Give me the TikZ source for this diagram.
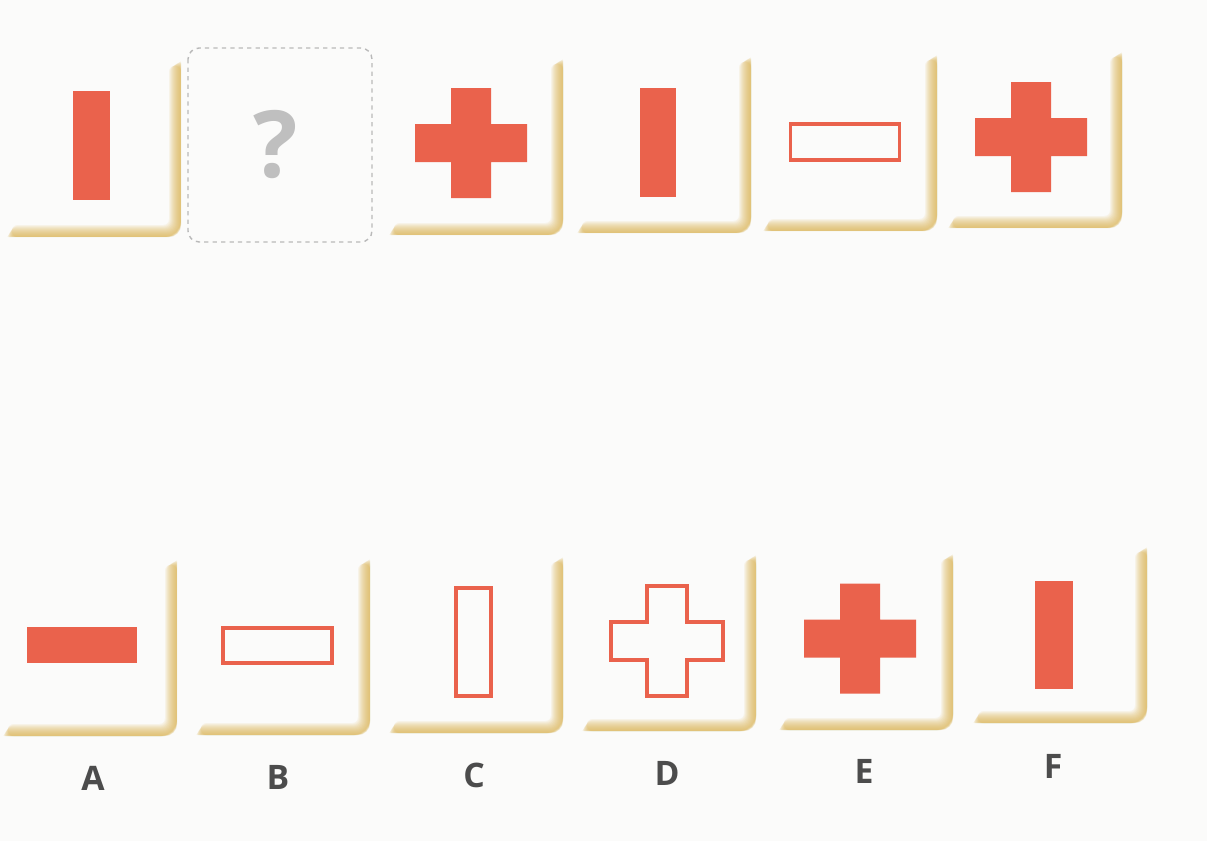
\documentclass[tikz,border=0pt]{standalone}
\usepackage{fontspec}
\setsansfont{Open Sans}
\usetikzlibrary{positioning}

\definecolor{tilered}{RGB}{234,98,76}
\definecolor{tilegold}{RGB}{220,178,78}
\definecolor{paper}{RGB}{251,251,250}

\tikzset{
  shadowline/.style={tilegold, line cap=round, rounded corners=8pt},
  solidshape/.style={fill=tilered},
  outlineshape/.style={draw=tilered, line width=2.7pt, fill=paper},
  answerlabel/.style={font=\sffamily\bfseries\fontsize{24}{24}\selectfont, text=black!70},
}

% tile edge, soft gold: right x, bottom y
\newcommand\tile[2]{%
  \foreach \w in {1,...,12}
    \draw[shadowline, line width=\w*0.71pt, opacity=0.1]
      (#1-\w/2,#2-176+\w*0.9) -- (#1-\w/2,#2-\w/2) -- (#1-174+\w*0.9,#2-\w/2);
}
% bar: centre x, centre y, width, height, style
\newcommand\barshape[5]{%
  \path[#5] (#1-#3/2,#2-#4/2) rectangle (#1+#3/2,#2+#4/2);
}
% cross: centre x, centre y, style
\newcommand\crossshape[3]{%
  \path[#3] (#1-56,#2-19) -- (#1-20,#2-19) -- (#1-20,#2-55) -- (#1+20,#2-55)
    -- (#1+20,#2-19) -- (#1+56,#2-19) -- (#1+56,#2+19) -- (#1+20,#2+19)
    -- (#1+20,#2+55) -- (#1-20,#2+55) -- (#1-20,#2+19) -- (#1-56,#2+19) -- cycle;
}

\begin{document}
\begin{tikzpicture}[x=0.025cm, y=-0.025cm]
    \fill[paper] (0,0) rectangle (1207,841);
    \useasboundingbox (0,0) rectangle (1207,841);

    % top row
    \foreach \x/\y in {181/237, 563/235, 751/233, 937/231, 1122/228}
        \tile{\x}{\y};
    \draw[gray!55, line width=1pt, dash pattern=on 3pt off 3pt, rounded corners=8pt]
        (188,48) rectangle (372,242);
    \node[text=gray!50, font=\sffamily\bfseries\fontsize{66}{66}\selectfont] (qmark) at (276,145) {?};

    \barshape{91.5}{145.5}{37}{109}{solidshape}
    \crossshape{471}{143}{solidshape}
    \barshape{658}{142.5}{36}{109}{solidshape}
    \barshape{845}{142}{109}{36}{outlineshape}
    \crossshape{1031}{137}{solidshape}

    % answer row
    \foreach \x/\y in {177/736, 370/735, 563/733, 756/731, 953/730, 1147/723}
        \tile{\x}{\y};

    \barshape{82}{645}{110}{36}{solidshape}
    \barshape{277.5}{645.5}{109}{35}{outlineshape}
    \barshape{473.5}{642}{35}{108}{outlineshape}
    \crossshape{667}{641}{outlineshape}
    \crossshape{860}{638.5}{solidshape}
    \barshape{1054}{635}{38}{108}{solidshape}

    \foreach \n/\x/\y in {A/93/778, B/278/777, C/474/775, D/667/773, E/864/771, F/1053/766}
        \node[answerlabel] (lbl\n) at (\x,\y) {\n};
\end{tikzpicture}
\end{document}
